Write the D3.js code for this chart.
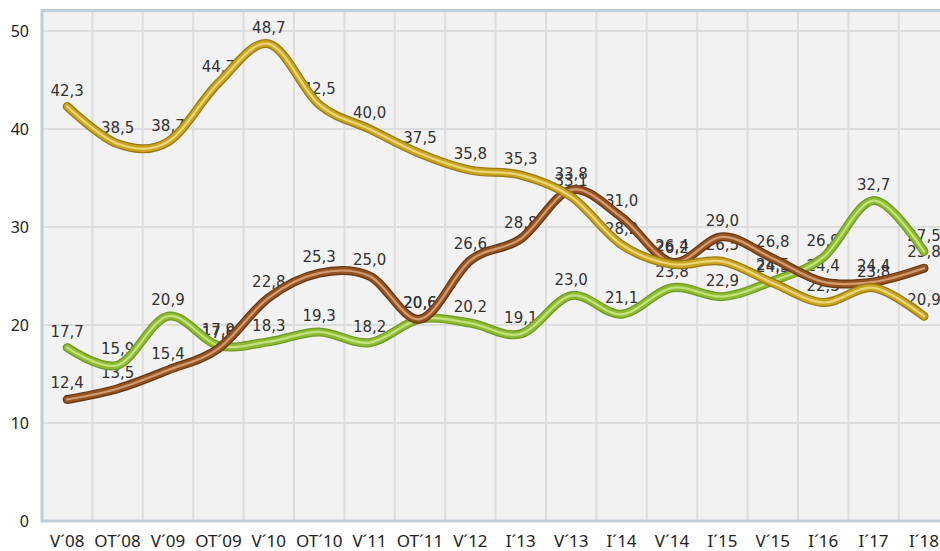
<!DOCTYPE html>
<html lang="en">
<head>
  <meta charset="UTF-8">
  <title>Chart</title>
  <style>
    body { margin: 0; background: #fff; }
    svg { display: block; }
    text { font-family: "Noto Sans", "DejaVu Sans", sans-serif; }
  </style>
</head>
<body>
  <div id="chart"></div>

  <script src="https://d3js.org/d3.v7.min.js"></script>

  <script>
    // categories and series
    var categories = ["V´08", "OT´08", "V´09", "OT´09", "V´10", "OT´10", "V´11", "OT´11", "V´12",
                      "I´13", "V´13", "I´14", "V´14", "I´15", "V´15", "I´16", "I´17", "I´18"];
    var gold  = [42.3, 38.5, 38.7, 44.7, 48.7, 42.5, 40.0, 37.5, 35.8, 35.3, 33.1, 28.2, 26.2, 26.5, 24.3, 22.3, 23.8, 20.9];
    var green = [17.7, 15.9, 20.9, 17.9, 18.3, 19.3, 18.2, 20.6, 20.2, 19.1, 23.0, 21.1, 23.8, 22.9, 24.5, 26.9, 32.7, 27.5];
    var brown = [12.4, 13.5, 15.4, 17.6, 22.8, 25.3, 25.0, 20.6, 26.6, 28.8, 33.8, 31.0, 26.4, 29.0, 26.8, 24.4, 24.4, 25.8];
    var yTicks = [0, 10, 20, 30, 40, 50];

    var series = [
      {name: "green", values: green, dark: "#6f9a22", mid: "#8fbb34", light: "#c4e27e"},
      {name: "brown", values: brown, dark: "#663710", mid: "#955424", light: "#d39b6e"},
      {name: "gold",  values: gold,  dark: "#97790f", mid: "#c9a521", light: "#ecd67a"}
    ];

    var width = 940, height = 551;
    var plotLeft = 42, plotTop = 10.5, plotBottom = 521, band = 50.4;
    var plotRight = plotLeft + band * categories.length;

    var svg = d3.select("#chart").append("svg")
      .attr("width", width)
      .attr("height", height);

    var x = d3.scaleBand()
      .domain(categories)
      .range([plotLeft, plotRight]);

    var y = d3.scaleLinear()
      .domain([0, 52.1])
      .range([plotBottom, plotTop]);

    // plot background
    svg.append("rect")
      .attr("x", plotLeft).attr("y", plotTop)
      .attr("width", plotRight - plotLeft).attr("height", plotBottom - plotTop)
      .style("fill", "#f2f2f2");

    // horizontal grid
    svg.selectAll(".hgrid")
      .data(yTicks.slice(1))
      .enter().append("line")
      .attr("x1", plotLeft).attr("x2", plotRight)
      .attr("y1", function(d) { return y(d); })
      .attr("y2", function(d) { return y(d); })
      .style("stroke", "#dddddd")
      .style("stroke-width", 2);

    // vertical grid at category boundaries
    svg.selectAll(".vgrid")
      .data(categories.slice(1))
      .enter().append("line")
      .attr("x1", function(d) { return x(d); })
      .attr("x2", function(d) { return x(d); })
      .attr("y1", plotTop).attr("y2", plotBottom)
      .style("stroke", "#dddddd")
      .style("stroke-width", 2);

    // frame (left, top, bottom)
    svg.append("path")
      .attr("d", "M" + plotRight + "," + plotTop + "H" + plotLeft + "V" + plotBottom + "H" + plotRight)
      .style("fill", "none")
      .style("stroke", "#c3ccd9")
      .style("stroke-width", 3);

    // y axis labels
    svg.selectAll(".ytick")
      .data(yTicks)
      .enter().append("text")
      .attr("x", 29)
      .attr("y", function(d) { return y(d); })
      .attr("dy", "0.36em")
      .attr("text-anchor", "end")
      .style("font-size", "16px")
      .style("fill", "#222")
      .text(function(d) { return d; });

    // x axis labels
    svg.selectAll(".xtick")
      .data(categories)
      .enter().append("text")
      .attr("x", function(d) { return x(d) + x.bandwidth() / 2; })
      .attr("y", 547)
      .attr("text-anchor", "middle")
      .style("font-size", "17px")
      .style("fill", "#222")
      .text(function(d) { return d; });

    var cx = function(d, i) { return x(categories[i]) + x.bandwidth() / 2; };

    // data labels (under the lines)
    series.forEach(function(s) {
      svg.selectAll(".lbl-" + s.name)
        .data(s.values)
        .enter().append("text")
        .attr("x", cx)
        .attr("y", function(d) { return y(d) - 11; })
        .attr("text-anchor", "middle")
        .style("font-family", "'DejaVu Sans', sans-serif")
        .style("font-size", "15px")
        .style("fill", "#333")
        .text(function(d) { return d.toFixed(1).replace(".", ","); });
    });

    var line = d3.line()
      .x(cx)
      .y(function(d) { return y(d); })
      .curve(d3.curveCardinal.tension(0));

    // tube-like lines
    series.forEach(function(s) {
      var g = svg.append("g");
      [[s.dark, 9], [s.mid, 6.5], [s.light, 2.2]].forEach(function(p) {
        g.append("path")
          .datum(s.values)
          .attr("d", line)
          .style("fill", "none")
          .style("stroke", p[0])
          .style("stroke-width", p[1])
          .style("stroke-linecap", "round")
          .style("stroke-linejoin", "round");
      });
    });
  </script>
</body>
</html>
